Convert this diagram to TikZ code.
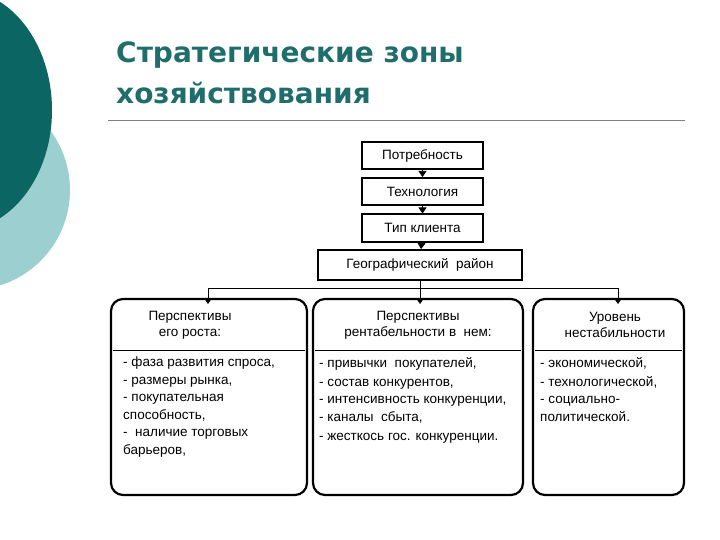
\documentclass[tikz,border=0pt]{standalone}
\usepackage{fontspec}
\setmainfont{Liberation Sans}
\newfontfamily\titlefont{DejaVu Sans}
\usetikzlibrary{arrows.meta}
\definecolor{teal1}{HTML}{0B6563}
\definecolor{teal2}{HTML}{9CCFCF}
\definecolor{titlec}{HTML}{1F6E6C}
\begin{document}
\begin{tikzpicture}[x=1pt,y=-1pt,
  topbox/.style={draw,line width=2pt,minimum height=27pt,inner sep=0pt,font=\fontsize{13.5}{15}\selectfont},
  bigbox/.style={draw,line width=2.2pt,rounded corners=12pt},
  btext/.style={font=\fontsize{13.5}{17.5}\selectfont,align=left,anchor=north west,inner sep=0pt},
  htext/.style={font=\fontsize{13.5}{16}\selectfont,align=center},
  ttext/.style={anchor=west,text=titlec,inner sep=0pt,font=\titlefont\fontsize{28}{32}\bfseries\selectfont},
  arr/.style={-{Triangle[length=6pt,width=8pt]},line width=0.6pt}]
\useasboundingbox (0,0) rectangle (720,540);
\fill[white] (0,0) rectangle (720,540);
\fill[teal2] (-30,190) circle (100);
\fill[teal1] (-40,110) ellipse (92 and 120);
\node[ttext] (t1) at (116,55) {Стратегические зоны};
\node[ttext] (t2) at (116,93) {хозяйствования};
\draw[gray,line width=0.6pt] (108,120) -- (685,120);
\node[topbox,minimum width=121pt] (a) at (422.5,156) {Потребность};
\node[topbox,minimum width=121pt] (b) at (422.5,191.5) {Технология};
\node[topbox,minimum width=121pt] (c) at (422.5,228) {Тип клиента};
\node[topbox,minimum width=204pt,minimum height=30pt] (d) at (420,265) {Географический \ район};
\draw[arr] (a) -- (b);
\draw[arr] (b) -- (c);
\draw[arr] (c) -- (d);
\draw[bigbox] (111,299) rectangle (307,495);
\draw[bigbox] (313,299) rectangle (523,495);
\draw[bigbox] (533,299) rectangle (684,495);
\coordinate (l) at (208,304); \coordinate (m) at (420,304); \coordinate (r) at (618,304);
\draw[line width=0.6pt] (208,288) -- (618,288);
\draw[arr] (d.south) -- (m);
\draw[arr] (208,288) -- (l);
\draw[arr] (618,288) -- (r);
\draw[line width=0.6pt] (113,350) -- (305,350) (315,350) -- (521,350) (535,350) -- (682,350);
\node[htext] (h1) at (190,325) {Перспективы\\ его роста:};
\node[htext] (h2) at (418,325) {Перспективы\\ рентабельности в \ нем:};
\node[htext] (h3) at (615,325) {Уровень\\ нестабильности};
\node[btext] (x1) at (123,357) {- фаза развития спроса,\\- размеры рынка,\\- покупательная\\способность,\\- \ наличие торговых\\барьеров,};
\node[btext] (x2) at (319,357) {- привычки \ покупателей,\\[1.5pt]- состав конкурентов,\\- интенсивность конкуренции,\\- каналы \ сбыта,\\[1.5pt]- жесткось гос. конкуренции.};
\node[btext] (x3) at (540,357) {- экономической,\\[1.5pt]- технологической,\\- социально-\\политической.};
\end{tikzpicture}
\end{document}
